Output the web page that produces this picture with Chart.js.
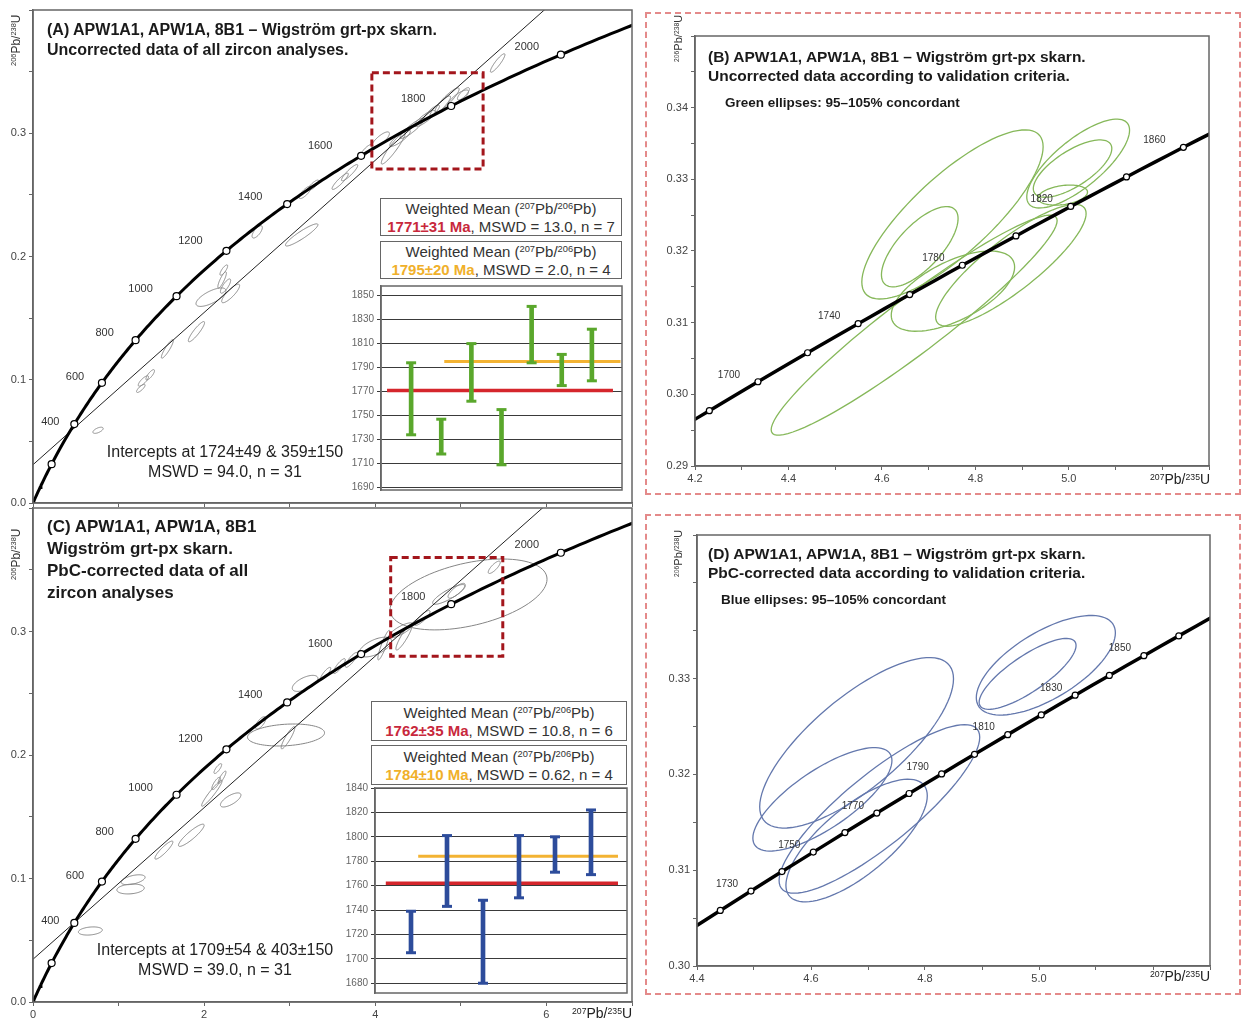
<!DOCTYPE html>
<html>
<head>
<meta charset="utf-8">
<script src="https://cdn.jsdelivr.net/npm/chart.js@4.4.1/dist/chart.umd.min.js"></script>
<style>
  body { margin: 0; background: #fff; font-family: "Liberation Sans", Arial, sans-serif; color: #1a1a1a; }
  #page { position: relative; width: 1242px; height: 1021px; overflow: hidden; }
  canvas, .abs { position: absolute; }
  .pink { position: absolute; border: 2px dashed #e48a8a; box-sizing: border-box; }
  .title { position: absolute; font-weight: bold; white-space: nowrap; }
  .ytitle { position: absolute; transform: rotate(-90deg); transform-origin: 0 0; white-space: nowrap; font-size: 12px; line-height: 14px; color: #333; }
  .xtitle { position: absolute; white-space: nowrap; font-size: 14px; color: #222; }
  sup { font-size: 0.62em; vertical-align: 0.5em; line-height: 0; }
  .wm { position: absolute; border: 1.5px solid #666; background: #fff; box-sizing: border-box; text-align: center; font-size: 15px; line-height: 18px; padding-top: 1px; color: #333; }
  .red { color: #c8283c; font-weight: bold; }
  .yel { color: #f0b02a; font-weight: bold; }
  .icpt { position: absolute; text-align: center; font-size: 16px; line-height: 20px; color: #222; }
</style>
</head>
<body>
<div id="page">
  <canvas id="cA" width="640" height="508" style="left:0;top:0"></canvas>
  <canvas id="cC" width="640" height="516" style="left:0;top:505px"></canvas>
  <div class="pink" style="left:645px;top:12px;width:596px;height:483px"></div>
  <canvas id="cB" width="586" height="470" style="left:650px;top:16px"></canvas>
  <div class="pink" style="left:645px;top:514px;width:596px;height:481px"></div>
  <canvas id="cD" width="586" height="470" style="left:650px;top:518px"></canvas>

  <div class="wm" style="left:380px;top:198px;width:242px;height:38px">Weighted Mean (<sup>207</sup>Pb/<sup>206</sup>Pb)<br><span class="red">1771±31 Ma</span>, MSWD = 13.0, n = 7</div>
  <div class="wm" style="left:380px;top:241px;width:242px;height:38px">Weighted Mean (<sup>207</sup>Pb/<sup>206</sup>Pb)<br><span class="yel">1795±20 Ma</span>, MSWD = 2.0, n = 4</div>
  <canvas id="iA" width="287" height="212" style="left:340px;top:283px"></canvas>

  <div class="wm" style="left:371px;top:701px;width:256px;height:40px;padding-top:2px">Weighted Mean (<sup>207</sup>Pb/<sup>206</sup>Pb)<br><span class="red">1762±35 Ma</span>, MSWD = 10.8, n = 6</div>
  <div class="wm" style="left:371px;top:745px;width:256px;height:40px;padding-top:2px">Weighted Mean (<sup>207</sup>Pb/<sup>206</sup>Pb)<br><span class="yel">1784±10 Ma</span>, MSWD = 0.62, n = 4</div>
  <canvas id="iC" width="302" height="222" style="left:330px;top:775px"></canvas>

  <div class="title" style="left:47px;top:20px;font-size:16px;line-height:20px">(A) APW1A1, APW1A, 8B1 – Wigström grt-px skarn.<br>Uncorrected data of all zircon analyses.</div>
  <div class="title" style="left:47px;top:516px;font-size:17px;line-height:22px">(C) APW1A1, APW1A, 8B1<br>Wigström grt-px skarn.<br>PbC-corrected data of all<br>zircon analyses</div>
  <div class="title" style="left:708px;top:47px;font-size:15.5px;line-height:19px">(B) APW1A1, APW1A, 8B1 – Wigström grt-px skarn.<br>Uncorrected data according to validation criteria.</div>
  <div class="title" style="left:725px;top:95px;font-size:13.5px">Green ellipses: 95–105% concordant</div>
  <div class="title" style="left:708px;top:544px;font-size:15.5px;line-height:19px">(D) APW1A1, APW1A, 8B1 – Wigström grt-px skarn.<br>PbC-corrected data according to validation criteria.</div>
  <div class="title" style="left:721px;top:592px;font-size:13.5px">Blue ellipses: 95–105% concordant</div>

  <div class="icpt" style="left:95px;top:442px;width:260px">Intercepts at 1724±49 &amp; 359±150<br>MSWD = 94.0, n = 31</div>
  <div class="icpt" style="left:85px;top:940px;width:260px">Intercepts at 1709±54 &amp; 403±150<br>MSWD = 39.0, n = 31</div>

  <div class="ytitle" style="left:9px;top:66px"><sup>206</sup>Pb/<sup>238</sup>U</div>
  <div class="ytitle" style="left:9px;top:580px"><sup>206</sup>Pb/<sup>238</sup>U</div>
  <div class="ytitle" style="left:671px;top:62px;font-size:11px"><sup>206</sup>Pb/<sup>238</sup>U</div>
  <div class="ytitle" style="left:671px;top:577px;font-size:11px"><sup>206</sup>Pb/<sup>238</sup>U</div>
  <div class="xtitle" style="left:572px;top:1005px"><sup>207</sup>Pb/<sup>235</sup>U</div>
  <div class="xtitle" style="left:1150px;top:471px"><sup>207</sup>Pb/<sup>235</sup>U</div>
  <div class="xtitle" style="left:1150px;top:968px"><sup>207</sup>Pb/<sup>235</sup>U</div>
</div>

<script>
// ---- data ----
// concordia age marks (Ma)
const markAgesAC = [200, 400, 600, 800, 1000, 1200, 1400, 1600, 1800, 2000];
const labelAgesAC = [400, 600, 800, 1000, 1200, 1400, 1600, 1800, 2000];
const markAgesB = [1680, 1700, 1720, 1740, 1760, 1780, 1800, 1820, 1840, 1860];
const labelAgesB = [1700, 1740, 1780, 1820, 1860];
const markAgesD = [1720, 1730, 1740, 1750, 1760, 1770, 1780, 1790, 1800, 1810, 1820, 1830, 1840, 1850, 1860];
const labelAgesD = [1730, 1750, 1770, 1790, 1810, 1830, 1850];

// discordia intercepts (Ma): lower, upper
const interceptsA = [359, 1724];
const interceptsC = [403, 1709];

// error ellipses: 207Pb/235U, 206Pb/238U, err 207/235, err 206/238, rho
const ellipsesA = [
  [0.76, 0.059, 0.06, 0.0025, 0.6],
  [1.26, 0.093, 0.05, 0.0033, 0.8],
  [1.29, 0.099, 0.06, 0.0042, 0.8],
  [1.37, 0.104, 0.05, 0.0042, 0.8],
  [1.57, 0.125, 0.07, 0.0075, 0.9],
  [1.91, 0.139, 0.095, 0.0082, 0.9],
  [2.08, 0.167, 0.175, 0.0075, 0.7],
  [2.21, 0.181, 0.05, 0.0066, 0.85],
  [2.23, 0.189, 0.045, 0.0042, 0.8],
  [2.25, 0.176, 0.06, 0.0058, 0.8],
  [2.31, 0.170, 0.105, 0.0075, 0.85],
  [2.62, 0.220, 0.06, 0.005, 0.7],
  [3.14, 0.2175, 0.19, 0.009, 0.92],
  [3.18, 0.252, 0.07, 0.005, 0.8],
  [3.28, 0.258, 0.06, 0.004, 0.8],
  [3.59, 0.261, 0.095, 0.0066, 0.9],
  [3.70, 0.268, 0.095, 0.0066, 0.9],
  [3.90, 0.286, 0.07, 0.005, 0.8],
  [4.06, 0.2945, 0.105, 0.0066, 0.8],
  [4.21, 0.288, 0.14, 0.013, 0.93],
  [4.29, 0.296, 0.12, 0.0066, 0.85],
  [4.43, 0.304, 0.14, 0.0082, 0.9],
  [4.58, 0.312, 0.12, 0.0066, 0.85],
  [4.66, 0.317, 0.09, 0.0058, 0.85],
  [4.76, 0.322, 0.12, 0.0082, 0.9],
  [4.84, 0.327, 0.14, 0.0098, 0.9],
  [4.97, 0.3285, 0.12, 0.0066, 0.8],
  [5.03, 0.332, 0.07, 0.005, 0.8],
  [5.43, 0.357, 0.085, 0.0075, 0.9]
];
const ellipsesC = [
  [0.67, 0.0575, 0.14, 0.0033, 0.25],
  [1.17, 0.099, 0.14, 0.004, 0.5],
  [1.14, 0.0915, 0.16, 0.004, 0.2],
  [1.53, 0.123, 0.105, 0.0073, 0.9],
  [1.85, 0.135, 0.15, 0.009, 0.9],
  [2.09, 0.169, 0.12, 0.0105, 0.95],
  [2.31, 0.1636, 0.12, 0.0057, 0.7],
  [2.16, 0.189, 0.045, 0.004, 0.8],
  [2.21, 0.182, 0.045, 0.005, 0.85],
  [2.14, 0.177, 0.05, 0.005, 0.8],
  [2.66, 0.226, 0.06, 0.005, 0.7],
  [2.957, 0.2162, 0.45, 0.0089, 0.2],
  [2.98, 0.214, 0.08, 0.009, 0.9],
  [3.18, 0.258, 0.15, 0.0065, 0.6],
  [3.42, 0.266, 0.06, 0.005, 0.85],
  [3.58, 0.272, 0.07, 0.006, 0.85],
  [3.72, 0.277, 0.07, 0.006, 0.85],
  [4.00, 0.2874, 0.19, 0.008, 0.6],
  [4.10, 0.289, 0.07, 0.012, 0.9],
  [4.336, 0.2955, 0.095, 0.0105, 0.9],
  [4.30, 0.301, 0.14, 0.006, 0.8],
  [4.55, 0.311, 0.09, 0.006, 0.85],
  [4.86, 0.330, 0.19, 0.008, 0.85],
  [4.95, 0.333, 0.1, 0.006, 0.8],
  [5.09, 0.330, 0.917, 0.0287, 0.43],
  [5.39, 0.352, 0.07, 0.005, 0.8]
];
const ellipsesB = [
  [4.669, 0.30965, 0.306, 0.01535, 0.95],
  [4.751, 0.3251, 0.194, 0.0118, 0.8],
  [4.681, 0.3206, 0.082, 0.0056, 0.7],
  [4.752, 0.3144, 0.132, 0.0056, 0.6],
  [4.876, 0.318, 0.161, 0.0085, 0.85],
  [5.02, 0.3322, 0.11, 0.0062, 0.75],
  [5.008, 0.3315, 0.084, 0.004, 0.7],
  [4.987, 0.3278, 0.053, 0.0014, 0.3]
];
const ellipsesD = [
  [4.68, 0.3233, 0.17, 0.0089, 0.75],
  [4.62, 0.3174, 0.122, 0.0054, 0.75],
  [4.72, 0.3164, 0.176, 0.0088, 0.85],
  [4.68, 0.3131, 0.124, 0.0064, 0.73],
  [5.012, 0.3314, 0.122, 0.0052, 0.65],
  [4.98, 0.3305, 0.085, 0.0037, 0.8]
];

// weighted mean 207Pb/206Pb ages (Ma): error bar low/high
const wmLowA = [1734, 1718, 1762, 1709, 1794, 1775, 1779];
const wmHighA = [1794, 1747, 1810, 1755, 1841, 1801, 1822];
const meanAllA = 1771, meanSelA = 1795;
const wmLowC = [1705, 1743, 1680, 1750, 1771, 1769];
const wmHighC = [1739, 1801, 1748, 1801, 1800, 1822];
const meanAllC = 1762, meanSelC = 1784;
const insetTicksA = [1690, 1710, 1730, 1750, 1770, 1790, 1810, 1830, 1850];
const insetTicksC = [1680, 1700, 1720, 1740, 1760, 1780, 1800, 1820, 1840];

// ---- concordia ----
const L235 = 9.8485e-4, L238 = 1.55125e-4; // decay constants per Ma
function conc(t) {
  return { x: Math.expm1(L235 * t), y: Math.expm1(L238 * t) };
}
function concCurve(t0, t1, step) {
  const pts = [];
  for (let t = t0; t <= t1; t += step) pts.push(conc(t));
  return pts;
}
function discordia(ages, xmax) {
  const a = conc(ages[0]), b = conc(ages[1]);
  const m = (b.y - a.y) / (b.x - a.x);
  return [{ x: 0, y: a.y - m * a.x }, { x: xmax, y: a.y + m * (xmax - a.x) }];
}

Chart.defaults.font.family = '"Liberation Sans", Arial, sans-serif';

// age label placement next to the concordia marks (pixels)
const labelShiftAC = { 400: [-24, -2], 600: [-27, -6], 800: [-31, -7], 1000: [-36, -7], 1200: [-36, -10], 1400: [-37, -7], 1600: [-41, -10], 1800: [-38, -7], 2000: [-34, -8] };

// ---- plugins ----
const framePlugin = {
  id: 'frame',
  beforeDraw(chart, args, opts) {
    const a = chart.chartArea, ctx = chart.ctx;
    if (!opts.fill) return;
    ctx.save();
    ctx.fillStyle = opts.fill;
    ctx.fillRect(a.left, a.top, a.right - a.left, a.bottom - a.top);
    ctx.restore();
  },
  afterDraw(chart, args, opts) {
    const a = chart.chartArea, ctx = chart.ctx;
    ctx.save();
    ctx.strokeStyle = opts.color || '#666';
    ctx.lineWidth = opts.width || 1.5;
    ctx.strokeRect(a.left, a.top, a.right - a.left, a.bottom - a.top);
    ctx.restore();
  }
};

const ellipsePlugin = {
  id: 'ellipses',
  beforeDatasetsDraw(chart, args, opts) {
    if (!opts.list) return;
    const { ctx, chartArea: a, scales: { x, y } } = chart;
    ctx.save();
    ctx.beginPath();
    ctx.rect(a.left, a.top, a.right - a.left, a.bottom - a.top);
    ctx.clip();
    ctx.strokeStyle = opts.color;
    ctx.lineWidth = opts.width;
    for (const [cx, cy, sx, sy, rho] of opts.list) {
      const k = Math.sqrt(1 - rho * rho);
      ctx.beginPath();
      for (let i = 0; i <= 90; i++) {
        const t = i / 90 * 2 * Math.PI;
        const px = x.getPixelForValue(cx + sx * Math.cos(t));
        const py = y.getPixelForValue(cy + sy * (rho * Math.cos(t) + k * Math.sin(t)));
        if (i === 0) ctx.moveTo(px, py); else ctx.lineTo(px, py);
      }
      ctx.closePath();
      ctx.stroke();
    }
    ctx.restore();
  }
};

const ageLabelPlugin = {
  id: 'ageLabels',
  afterDatasetsDraw(chart, args, opts) {
    if (!opts.ages) return;
    const { ctx, scales: { x, y } } = chart;
    ctx.save();
    ctx.font = opts.font;
    ctx.fillStyle = '#333';
    ctx.textAlign = 'center';
    ctx.textBaseline = 'middle';
    opts.ages.forEach(t => {
      const p = conc(t);
      const [dx, dy] = (opts.shift && opts.shift[t]) || [opts.dx, opts.dy];
      ctx.fillText(String(t), x.getPixelForValue(p.x) + dx, y.getPixelForValue(p.y) + dy);
    });
    ctx.restore();
  }
};

const zoomBoxPlugin = {
  id: 'zoomBox',
  afterDatasetsDraw(chart, args, opts) {
    if (!opts.box) return;
    const { ctx, scales: { x, y } } = chart;
    const [x0, x1, y0, y1] = opts.box;
    const l = x.getPixelForValue(x0), r = x.getPixelForValue(x1);
    const t = y.getPixelForValue(y1), b = y.getPixelForValue(y0);
    ctx.save();
    ctx.strokeStyle = '#a3161c';
    ctx.lineWidth = 3;
    ctx.setLineDash([7, 4]);
    ctx.strokeRect(l, t, r - l, b - t);
    ctx.restore();
  }
};

// fixed axis sizes, no extra label overhang padding
const fixX = h => s => { s.height = h; s.paddingLeft = 0; s.paddingRight = 0; };
const fixY = w => s => { s.width = w; s.paddingTop = 0; s.paddingBottom = 0; };

// ---- concordia panels ----
function concordiaChart(id, c) {
  const datasets = [
    { data: c.curve, showLine: true, borderColor: '#000', borderWidth: c.lw, pointRadius: 0, order: 2 },
    { data: c.marks.map(conc), pointRadius: c.r, pointBackgroundColor: '#fff', pointBorderColor: '#000', pointBorderWidth: 1.2, order: 0 }
  ];
  if (c.disc) datasets.push({ data: c.disc, showLine: true, borderColor: '#222', borderWidth: 1, pointRadius: 0, order: 3 });
  return new Chart(document.getElementById(id), {
    type: 'scatter',
    data: { datasets },
    plugins: [framePlugin, ellipsePlugin, ageLabelPlugin, zoomBoxPlugin],
    options: {
      responsive: false,
      animation: false,
      devicePixelRatio: 1,
      events: [],
      layout: { padding: c.pad, autoPadding: false },
      plugins: {
        legend: { display: false },
        tooltip: { enabled: false },
        frame: { color: '#666', width: 1.5 },
        ellipses: { list: c.ellipses, color: c.ellColor, width: c.ellWidth },
        ageLabels: { ages: c.labels, font: c.labelFont, dx: c.ldx, dy: c.ldy, shift: c.shift },
        zoomBox: { box: c.box }
      },
      scales: {
        x: {
          type: 'linear', min: c.xmin, max: c.xmax,
          border: { color: '#666', width: 1.5 },
          grid: { drawOnChartArea: false, tickLength: 4, color: '#666' },
          ticks: { stepSize: c.xstep, autoSkip: false, maxRotation: 0, padding: 2, color: '#444', font: { size: 11 }, display: c.xLabels, callback: c.xcb },
          afterFit: fixX(c.xh)
        },
        y: {
          type: 'linear', min: c.ymin, max: c.ymax,
          border: { color: '#666', width: 1.5 },
          grid: { drawOnChartArea: false, tickLength: 4, color: '#666' },
          ticks: { stepSize: c.ystep, autoSkip: false, padding: 3, color: '#444', font: { size: 11 }, callback: c.ycb },
          afterFit: fixY(c.yw)
        }
      }
    }
  });
}

const yLabelAC = v => { const k = Math.round(v * 100); return (Math.abs(v * 100 - k) < 1e-6 && k % 10 === 0 && k <= 30) ? v.toFixed(1) : ''; };
const xLabelBD = v => { const k = Math.round(v * 10); return (Math.abs(v * 10 - k) < 1e-6 && k % 2 === 0 && k <= 50) ? v.toFixed(1) : ''; };

concordiaChart('cA', {
  curve: concCurve(0, 2200, 10), marks: markAgesAC, labels: labelAgesAC, lw: 3, r: 3.5,
  disc: discordia(interceptsA, 8), ellipses: ellipsesA, ellColor: '#858585', ellWidth: 1,
  labelFont: '11px "Liberation Sans", Arial', ldx: -36, ldy: -7, shift: labelShiftAC,
  box: [3.96, 5.26, 0.271, 0.349],
  pad: { top: 10, right: 8, left: 0, bottom: 0 }, xh: 5, yw: 33,
  xmin: 0, xmax: 7, xstep: 1, xLabels: false, xcb: () => '',
  ymin: 0, ymax: 0.4, ystep: 0.05, ycb: yLabelAC
});

concordiaChart('cC', {
  curve: concCurve(0, 2200, 10), marks: markAgesAC, labels: labelAgesAC, lw: 3, r: 3.5,
  disc: discordia(interceptsC, 8), ellipses: ellipsesC, ellColor: '#858585', ellWidth: 1,
  labelFont: '11px "Liberation Sans", Arial', ldx: -36, ldy: -7, shift: labelShiftAC,
  box: [4.18, 5.49, 0.28, 0.36],
  pad: { top: 3, right: 8, left: 0, bottom: 0 }, xh: 19, yw: 33,
  xmin: 0, xmax: 7, xstep: 1, xLabels: true, xcb: v => (v % 2 === 0 && v <= 6) ? String(v) : '',
  ymin: 0, ymax: 0.4, ystep: 0.05, ycb: yLabelAC
});

concordiaChart('cB', {
  curve: concCurve(1600, 1950, 5), marks: markAgesB, labels: labelAgesB, lw: 3.5, r: 3,
  ellipses: ellipsesB, ellColor: '#86b85a', ellWidth: 1.3,
  labelFont: '10px "Liberation Sans", Arial', ldx: -29, ldy: -7,
  pad: { top: 20, right: 27, left: 0, bottom: 0 }, xh: 20, yw: 45,
  xmin: 4.2, xmax: 5.3, xstep: 0.1, xLabels: true, xcb: xLabelBD,
  ymin: 0.29, ymax: 0.35, ystep: 0.005,
  ycb: v => { const k = Math.round(v * 1000); return (k % 10 === 0 && k <= 340) ? v.toFixed(2) : ''; }
});

concordiaChart('cD', {
  curve: concCurve(1650, 1950, 5), marks: markAgesD, labels: labelAgesD, lw: 3.5, r: 3,
  ellipses: ellipsesD, ellColor: '#6478ad', ellWidth: 1.3,
  labelFont: '10px "Liberation Sans", Arial', ldx: -24, ldy: -7,
  pad: { top: 17, right: 26, left: 0, bottom: 0 }, xh: 22, yw: 47,
  xmin: 4.4, xmax: 5.3, xstep: 0.1, xLabels: true, xcb: xLabelBD,
  ymin: 0.30, ymax: 0.345, ystep: 0.005,
  ycb: v => { const k = Math.round(v * 1000); return (k % 10 === 0 && k <= 330) ? v.toFixed(2) : ''; }
});

// ---- weighted mean insets ----
function insetChart(id, o) {
  const bars = o.lo.map((lo, i) => ({ x: i + 1, y: [lo, o.hi[i]] }));
  const caps = o.lo.flatMap((lo, i) => [{ x: i + 1, y: lo }, { x: i + 1, y: o.hi[i] }]);
  return new Chart(document.getElementById(id), {
    type: 'bar',
    data: {
      datasets: [
        { type: 'line', data: [{ x: o.redX[0], y: o.meanAll }, { x: o.redX[1], y: o.meanAll }], borderColor: '#d5262c', borderWidth: 3.5, pointRadius: 0, order: 3 },
        { type: 'line', data: [{ x: o.yelX[0], y: o.meanSel }, { x: o.yelX[1], y: o.meanSel }], borderColor: '#f3b333', borderWidth: 3, pointRadius: 0, order: 3 },
        { type: 'bar', data: bars, backgroundColor: o.color, barThickness: 4, order: 1 },
        { type: 'scatter', data: caps, pointStyle: 'line', pointRadius: 5, pointBorderColor: o.color, pointBorderWidth: 3, borderColor: o.color, order: 0 }
      ]
    },
    plugins: [framePlugin],
    options: {
      responsive: false,
      animation: false,
      devicePixelRatio: 1,
      events: [],
      layout: { padding: o.pad, autoPadding: false },
      plugins: { legend: { display: false }, tooltip: { enabled: false }, frame: { color: '#666', width: 1.5, fill: '#fff' } },
      scales: {
        x: { type: 'linear', min: 0, max: o.xmax, offset: false, display: false },
        y: {
          type: 'linear', min: o.ymin, max: o.ymax,
          afterBuildTicks: s => { s.ticks = o.ticks.map(v => ({ value: v })); },
          border: { color: '#666', width: 1.5 },
          grid: { color: '#3a3a3a', lineWidth: 1, tickLength: 4 },
          ticks: { color: '#666', font: { size: 10 }, padding: 3, autoSkip: false, callback: v => String(v) },
          afterFit: fixY(o.yw)
        }
      }
    }
  });
}

insetChart('iA', {
  lo: wmLowA, hi: wmHighA, meanAll: meanAllA, meanSel: meanSelA, color: '#5aa72c',
  redX: [0.2, 7.7], yelX: [2.1, 7.95], xmax: 8, ymin: 1688, ymax: 1858, ticks: insetTicksA,
  pad: { top: 3, right: 5, left: 0, bottom: 5 }, yw: 41
});

insetChart('iC', {
  lo: wmLowC, hi: wmHighC, meanAll: meanAllC, meanSel: meanSelC, color: '#2d4c9b',
  redX: [0.3, 6.75], yelX: [1.2, 6.75], xmax: 7, ymin: 1672, ymax: 1840, ticks: insetTicksC,
  pad: { top: 13, right: 5, left: 0, bottom: 4 }, yw: 45
});
</script>
</body>
</html>
